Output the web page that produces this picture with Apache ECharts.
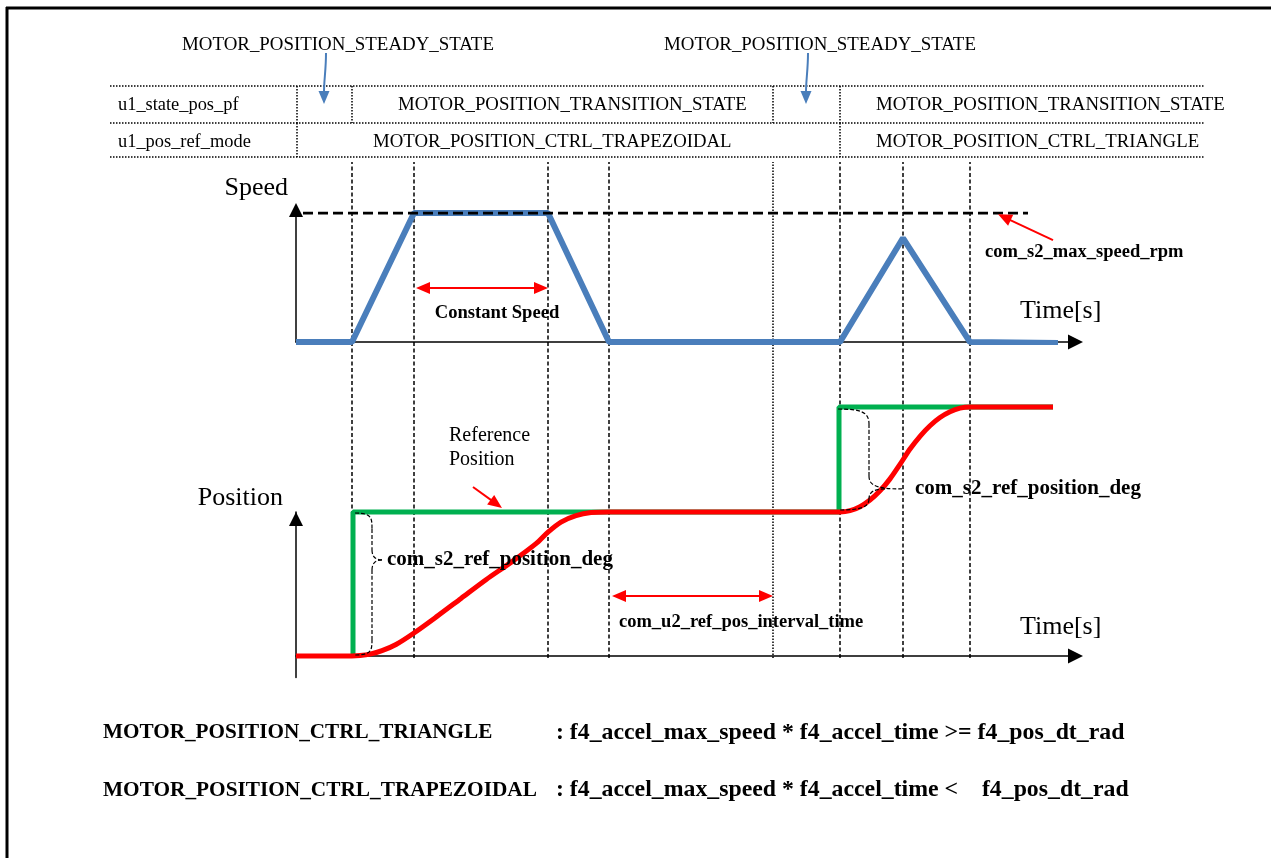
<!DOCTYPE html>
<html><head><meta charset="utf-8">
<script src="https://cdn.jsdelivr.net/npm/echarts@6/dist/echarts.min.js"></script>
<style>html,body{margin:0;padding:0;background:#fff}#c{width:1271px;height:858px}</style>
</head><body><div id="c"></div>
<script>
// ---- data (time in ms-like units from the origin of the time axes) ----
const eventTimes = [56, 118, 252, 313, 477, 544, 607, 674];
const eventDotted = [0, 0, 0, 0, 1, 0, 0, 0];
const speedT = [0, 56, 118, 252, 313, 544, 607, 674, 762];
const speedV = [0, 0, 1, 1, 0, 0, 0.806, 0, -0.008];
const maxSpeedT = [7, 732];
const maxSpeedV = [1, 1];
const cmdT = [57, 57, 313, 543, 543, 757];
const cmdV = [0, 1, 1, 1, 1.729, 1.729];
const refT = [0,56,64,74,86,100,118,140,165,190,215,240,252,265,280,295,313,544,554,564,574,584,594,604,614,624,634,644,654,664,674,757];
const refV = [0,0,0.003,0.013,0.037,0.08,0.16,0.27,0.40,0.53,0.65,0.78,0.86,0.93,0.975,0.996,1.0,1.0,1.009,1.037,1.083,1.147,1.23,1.331,1.437,1.526,1.599,1.656,1.696,1.721,1.729,1.729];
const headerLabels = ['MOTOR_POSITION_STEADY_STATE', 'MOTOR_POSITION_STEADY_STATE'];
const rowNames = ['u1_state_pos_pf', 'u1_pos_ref_mode'];
const stateLabels = ['MOTOR_POSITION_TRANSITION_STATE', 'MOTOR_POSITION_TRANSITION_STATE'];
const modeLabels = ['MOTOR_POSITION_CTRL_TRAPEZOIDAL', 'MOTOR_POSITION_CTRL_TRIANGLE'];
const ruleNames = ['MOTOR_POSITION_CTRL_TRIANGLE', 'MOTOR_POSITION_CTRL_TRAPEZOIDAL'];
const ruleExprs = [': f4_accel_max_speed * f4_accel_time >= f4_pos_dt_rad', ': f4_accel_max_speed * f4_accel_time <    f4_pos_dt_rad'];

const FONT = '"Liberation Serif","Times New Roman",serif';
const BLUE = '#4a7ebb', RED = '#ff0000', GREEN = '#00b050';
const zip = (a, b) => a.map((v, i) => [v, b[i]]);

const chart = echarts.init(document.getElementById('c'));
const hid = {show: false};
function xAx(g, show) {
  return {gridIndex: g, type: 'value', min: 0, max: 772, show: show,
    axisLine: {show: true, onZero: true, symbol: ['none', 'triangle'], symbolSize: [15, 15], symbolOffset: [0, 7.5], lineStyle: {color: '#000', width: 1.5}},
    axisTick: hid, axisLabel: hid, splitLine: hid};
}
function yAx(g, min, max, off, show) {
  return {gridIndex: g, type: 'value', min: min, max: max, show: show,
    axisLine: {show: true, onZero: false, symbol: ['none', 'triangle'], symbolSize: [14, 14], symbolOffset: [0, off], lineStyle: {color: '#000', width: 1.5}},
    axisTick: hid, axisLabel: hid, splitLine: hid};
}
chart.setOption({
  animation: false,
  backgroundColor: '#fff',
  grid: [
    {left: 296, top: 213, width: 772, height: 129},
    {left: 296, top: 512, width: 772, height: 165.6},
    {left: 296, top: 162, width: 772, height: 496}
  ],
  xAxis: [xAx(0, true), xAx(1, true), xAx(2, false)],
  yAxis: [yAx(0, 0, 1, 3, true), yAx(1, -0.15, 1, -7, true), yAx(2, 0, 1, 0, false)],
  series: [
    {type: 'custom', xAxisIndex: 2, yAxisIndex: 2, silent: true, z: 1,
     data: zip(eventTimes, eventDotted),
     renderItem: function (params, api) {
       const a = api.coord([api.value(0), 0]), b = api.coord([api.value(0), 1]);
       return {type: 'line', shape: {x1: a[0], y1: a[1], x2: b[0], y2: b[1]},
         style: {stroke: '#000', lineWidth: 1.5, lineDash: api.value(1) ? [1.5, 1.5] : [4, 2.5]}};
     }},
    {type: 'line', xAxisIndex: 0, yAxisIndex: 0, data: zip(speedT, speedV), symbol: 'none', z: 3,
     lineStyle: {color: BLUE, width: 6}},
    {type: 'line', xAxisIndex: 0, yAxisIndex: 0, data: zip(maxSpeedT, maxSpeedV), symbol: 'none', z: 4,
     lineStyle: {color: '#000', width: 3, type: [10, 5]}},
    {type: 'line', xAxisIndex: 1, yAxisIndex: 1, data: zip(cmdT, cmdV), symbol: 'none', z: 3, clip: false,
     lineStyle: {color: GREEN, width: 5}},
    {type: 'line', xAxisIndex: 1, yAxisIndex: 1, data: zip(refT, refV), symbol: 'none', z: 4, clip: false,
     smooth: 0.3, lineStyle: {color: RED, width: 5, join: 'round'}}
  ]
});

// ---- annotations positioned through the axes ----
const PS = (t, v) => chart.convertToPixel({gridIndex: 0}, [t, v]);
const PP = (t, v) => chart.convertToPixel({gridIndex: 1}, [t, v]);
const X = t => chart.convertToPixel({gridIndex: 0}, [t, 0])[0];

function head(x, y, ang, len, w, color) {
  const bx = x - Math.cos(ang) * len, by = y - Math.sin(ang) * len;
  const nx = -Math.sin(ang) * w / 2, ny = Math.cos(ang) * w / 2;
  return {type: 'polygon', z: 20, shape: {points: [[x, y], [bx + nx, by + ny], [bx - nx, by - ny]]}, style: {fill: color}};
}
function arrow(a, b, color, lw, len, w, both) {
  const ang = Math.atan2(b[1] - a[1], b[0] - a[0]);
  const s = both ? [a[0] + Math.cos(ang) * len * 0.8, a[1] + Math.sin(ang) * len * 0.8] : a;
  const e = [b[0] - Math.cos(ang) * len * 0.8, b[1] - Math.sin(ang) * len * 0.8];
  const out = [{type: 'line', z: 20, shape: {x1: s[0], y1: s[1], x2: e[0], y2: e[1]}, style: {stroke: color, lineWidth: lw}}];
  out.push(head(b[0], b[1], ang, len, w, color));
  if (both) out.push(head(a[0], a[1], ang + Math.PI, len, w, color));
  return out;
}
function txt(text, x, y, size, weight, align) {
  return {type: 'text', z: 20, style: {text: text, x: x, y: y, font: weight + ' ' + size + 'px ' + FONT, fill: '#000',
    align: align || 'left', verticalAlign: 'middle', textAlign: align || 'left', textVerticalAlign: 'middle'}};
}
function hline(x1, x2, y, w, dash) { return {type: 'line', z: 15, shape: {x1: x1, y1: y, x2: x2, y2: y}, style: {stroke: '#000', lineWidth: w, lineDash: dash}}; }
function vline(x, y1, y2, w, dash) { return {type: 'line', z: 15, shape: {x1: x, y1: y1, x2: x, y2: y2}, style: {stroke: '#000', lineWidth: w, lineDash: dash}}; }
const BDASH = [4, 2];
function bz(x1, y1, cx1, cy1, cx2, cy2, x2, y2) {
  return {type: 'bezierCurve', z: 18, shape: {x1: x1, y1: y1, cpx1: cx1, cpy1: cy1, cpx2: cx2, cpy2: cy2, x2: x2, y2: y2},
    style: {stroke: '#000', fill: null, lineWidth: 1.2, lineDash: BDASH}};
}

const g = [];
// frame
g.push(hline(6, 1271, 8, 3, null));
g.push(vline(7, 7, 858, 3, null));

// table
const DOT = [1.5, 1.5];
const tY = [86, 123, 157];
tY.forEach(y => g.push(hline(110, 1205, y, 1.5, DOT)));
const x0 = X(0) + 1;
[x0, X(56), X(477), X(544)].forEach(x => g.push(vline(x, tY[0], tY[1], 1.5, DOT)));
[x0, X(544)].forEach(x => g.push(vline(x, tY[1], tY[2], 1.5, DOT)));
const TF = 18.8;
g.push(txt(rowNames[0], 118, 105, TF - 0.4, 'normal'));
g.push(txt(rowNames[1], 118, 142, TF - 0.4, 'normal'));
g.push(txt(stateLabels[0], 398, 105, TF, 'normal'));
g.push(txt(stateLabels[1], 876, 105, TF, 'normal'));
g.push(txt(modeLabels[0], 373, 142, TF, 'normal'));
g.push(txt(modeLabels[1], 876, 142, TF, 'normal'));
// header state labels with blue arrows
g.push(txt(headerLabels[0], 182, 45, 18.9, 'normal'));
g.push(txt(headerLabels[1], 664, 45, 18.9, 'normal'));
[X(28), X(510)].forEach(function (xa) {
  g.push({type: 'bezierCurve', z: 20, shape: {x1: xa + 2, y1: 53, x2: xa, y2: 92, cpx1: xa + 2, cpy1: 70, cpx2: xa, cpy2: 80}, style: {stroke: BLUE, lineWidth: 2, fill: null}});
  g.push(head(xa, 104, Math.PI / 2, 13, 11, BLUE));
});

// speed plot labels
g.push(txt('Speed', 288, 188, 26, 'normal', 'right'));
g.push(txt('Time[s]', 1020, 311, 26, 'normal'));
const cs1 = PS(120, 0.419), cs2 = PS(252, 0.419);
arrow(cs1, cs2, RED, 2, 14, 12, true).forEach(e => g.push(e));
const csT = PS(201, 0.225);
g.push(txt('Constant Speed', csT[0], csT[1], 18.6, 'bold', 'center'));
arrow(PS(757, 0.79), PS(702, 0.99), RED, 2, 14, 12, false).forEach(e => g.push(e));
const msT = PS(689, 0.698);
g.push(txt('com_s2_max_speed_rpm', msT[0], msT[1], 18.5, 'bold'));

// position plot labels
g.push(txt('Position', 283, 498, 26, 'normal', 'right'));
g.push(txt('Time[s]', 1020, 627, 26, 'normal'));
const rp1 = PP(153, 1.528), rp2 = PP(153, 1.361);
g.push(txt('Reference', rp1[0], rp1[1], 20, 'normal'));
g.push(txt('Position', rp2[0], rp2[1], 20, 'normal'));
arrow(PP(177, 1.174), PP(206, 1.028), RED, 2, 14, 12, false).forEach(e => g.push(e));

// left brace
(function () {
  const xl = X(56) + 3, xm = X(56) + 20, top = PP(0, 1)[1] + 1, bot = PP(0, 0)[1] - 1;
  const tip = PP(86, 0.667);
  const xt = tip[0], yt = tip[1];
  g.push(bz(xl, top, xm, top, xm, top + 5, xm, top + 16));
  g.push(bz(xm, top + 16, xm, top + 20, xm, yt - 14, xm, yt - 10));
  g.push(bz(xm, yt - 10, xm, yt - 3, xm + 4, yt, xt, yt));
  g.push(bz(xt, yt, xm + 4, yt, xm, yt + 3, xm, yt + 10));
  g.push(bz(xm, yt + 10, xm, yt + 14, xm, bot - 20, xm, bot - 16));
  g.push(bz(xm, bot - 16, xm, bot - 5, xm, bot, xl, bot));
  g.push(txt('com_s2_ref_position_deg', xt + 5, yt, 21, 'bold'));
})();
// right brace
(function () {
  const xl = X(544) - 2, xm = X(544) + 29, top = PP(0, 1.729)[1] + 2, bot = PP(0, 1)[1] - 2;
  const tip = PP(606, 1.16);
  const xt = tip[0], yt = tip[1];
  g.push(bz(xl, top, xm - 8, top, xm, top + 3, xm, top + 15));
  g.push(bz(xm, top + 15, xm, top + 20, xm, yt - 18, xm, yt - 13));
  g.push(bz(xm, yt - 13, xm, yt - 4, xm + 6, yt, xt, yt));
  g.push(bz(xm + 16, yt, xm + 5, yt, xm, yt + 3, xm, yt + 10));
  g.push(bz(xm, yt + 10, xm, bot - 3, xm - 8, bot, xl + 2, bot));
  g.push(txt('com_s2_ref_position_deg', xt + 13, yt, 21, 'bold'));
})();
// interval arrow
arrow(PP(316, 0.417), PP(477, 0.417), RED, 2, 14, 12, true).forEach(e => g.push(e));
const ivT = PP(323, 0.236);
g.push(txt('com_u2_ref_pos_interval_time', ivT[0], ivT[1], 18.5, 'bold'));

// rules under the chart
g.push(txt(ruleNames[0], 103, 733, 21.2, 'bold'));
g.push(txt(ruleExprs[0], 556, 733, 23.8, 'bold'));
g.push(txt(ruleNames[1], 103, 790, 21.3, 'bold'));
g.push(txt(ruleExprs[1], 556, 790, 23.8, 'bold'));

chart.setOption({graphic: {elements: g}});
</script>
</body></html>
